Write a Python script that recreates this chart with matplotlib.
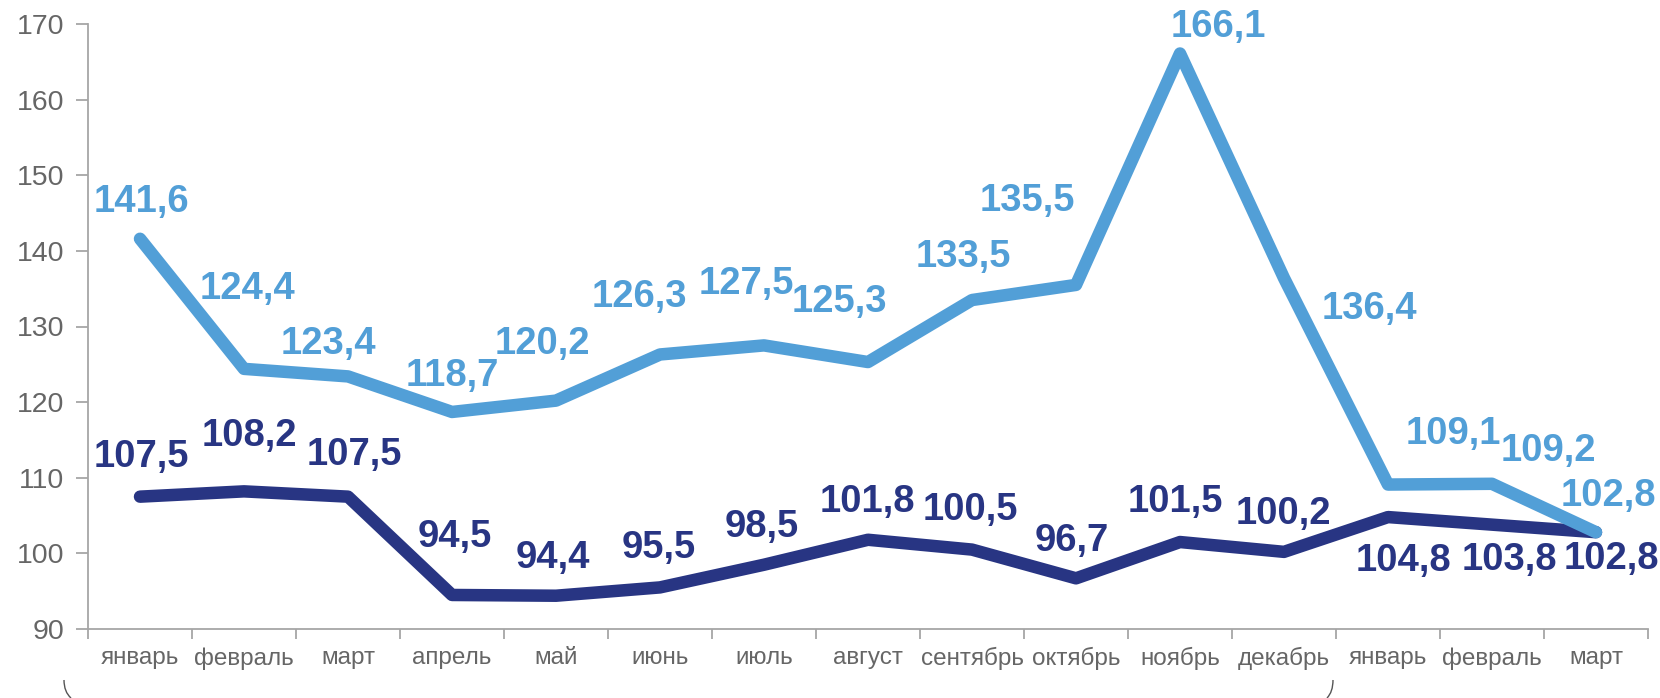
import matplotlib
matplotlib.use("Agg")
import matplotlib.pyplot as plt
from matplotlib.path import Path
from matplotlib.patches import PathPatch

plt.rcParams['font.family'] = ['Liberation Sans', 'DejaVu Sans']

months = ["январь", "февраль", "март", "апрель", "май", "июнь", "июль", "август",
          "сентябрь", "октябрь", "ноябрь", "декабрь", "январь", "февраль", "март"]
series_light = [141.6, 124.4, 123.4, 118.7, 120.2, 126.3, 127.5, 125.3,
                133.5, 135.5, 166.1, 136.4, 109.1, 109.2, 102.8]
series_dark = [107.5, 108.2, 107.5, 94.5, 94.4, 95.5, 98.5, 101.8,
               100.5, 96.7, 101.5, 100.2, 104.8, 103.8, 102.8]

# label offsets in pixels (layout only)
off_light = [(1, 37), (3, 80), (-20, 32), (0, 36), (-14, 57), (-21, 57), (-18, 61), (-29, 60),
             (-9, 43), (-49, 84), (38, 26), (85, -31), (65, 51), (56, 33), (12, 36)]
off_dark = [(1, 40), (5, 55), (6, 42), (3, 58), (-3, 38), (-1, 39), (-2, 38), (-1, 38),
            (-2, 40), (-4, 37), (-5, 40), (-1, 38), (15, -44), (17, -35), (15, -27)]

c_light = "#529fd7"
c_dark = "#283583"
W, H = 1660, 698
fig = plt.figure(figsize=(W / 100, H / 100), dpi=100)
ax = fig.add_axes([88 / W, 1 - 629 / H, (1648 - 88) / W, (629 - 24) / H])

x = [i + 0.5 for i in range(len(months))]
ax.plot(x, series_light, color=c_light, lw=9, solid_capstyle='round', solid_joinstyle='round', zorder=3)
ax.plot(x, series_dark, color=c_dark, lw=9, solid_capstyle='round', solid_joinstyle='round', zorder=2)

def fmt(v):
    return f"{v:.1f}".replace('.', ',')

for xi, v, (dx, dy) in zip(x, series_light, off_light):
    ax.annotate(fmt(v), (xi, v), xytext=(dx, dy), textcoords='offset pixels',
                ha='center', va='center', fontsize=27.5, fontweight='bold', color=c_light, zorder=5)
for xi, v, (dx, dy) in zip(x, series_dark, off_dark):
    ax.annotate(fmt(v), (xi, v), xytext=(dx, dy), textcoords='offset pixels',
                ha='center', va='center', fontsize=27.5, fontweight='bold', color=c_dark, zorder=5)

ax.set_xlim(0, len(months))
ax.set_ylim(90, 170)
ax.set_yticks(range(90, 171, 10))
ax.set_xticks(range(0, len(months) + 1))
ax.set_xticklabels([])
ax.set_xticks(x, minor=True)
ax.set_xticklabels(months, minor=True)
ax.tick_params(axis='x', which='major', length=7, width=1.3, color='#a6a6a6', direction='out')
ax.tick_params(axis='x', which='minor', length=0, pad=13, labelsize=17.5, labelcolor='#666666')
ax.tick_params(axis='y', length=9, width=1.3, color='#a6a6a6', direction='out', pad=8,
               labelsize=20.5, labelcolor='#666666')
for s in ['top', 'right']:
    ax.spines[s].set_visible(False)
for s in ['left', 'bottom']:
    ax.spines[s].set_color('#a6a6a6')
    ax.spines[s].set_linewidth(1.3)

# bracket fragments at bottom (figure pixel coords)
def fp(px, py):
    return (px / W, 1 - py / H)

left = Path([fp(64, 680), fp(64, 692), fp(71, 698)], [Path.MOVETO, Path.CURVE3, Path.CURVE3])
right = Path([fp(1333, 680), fp(1333, 692), fp(1327, 698)], [Path.MOVETO, Path.CURVE3, Path.CURVE3])
for p in (left, right):
    fig.add_artist(PathPatch(p, transform=fig.transFigure, fill=False, edgecolor='#555555', lw=1.0))

fig.savefig("out.png", dpi=100)
